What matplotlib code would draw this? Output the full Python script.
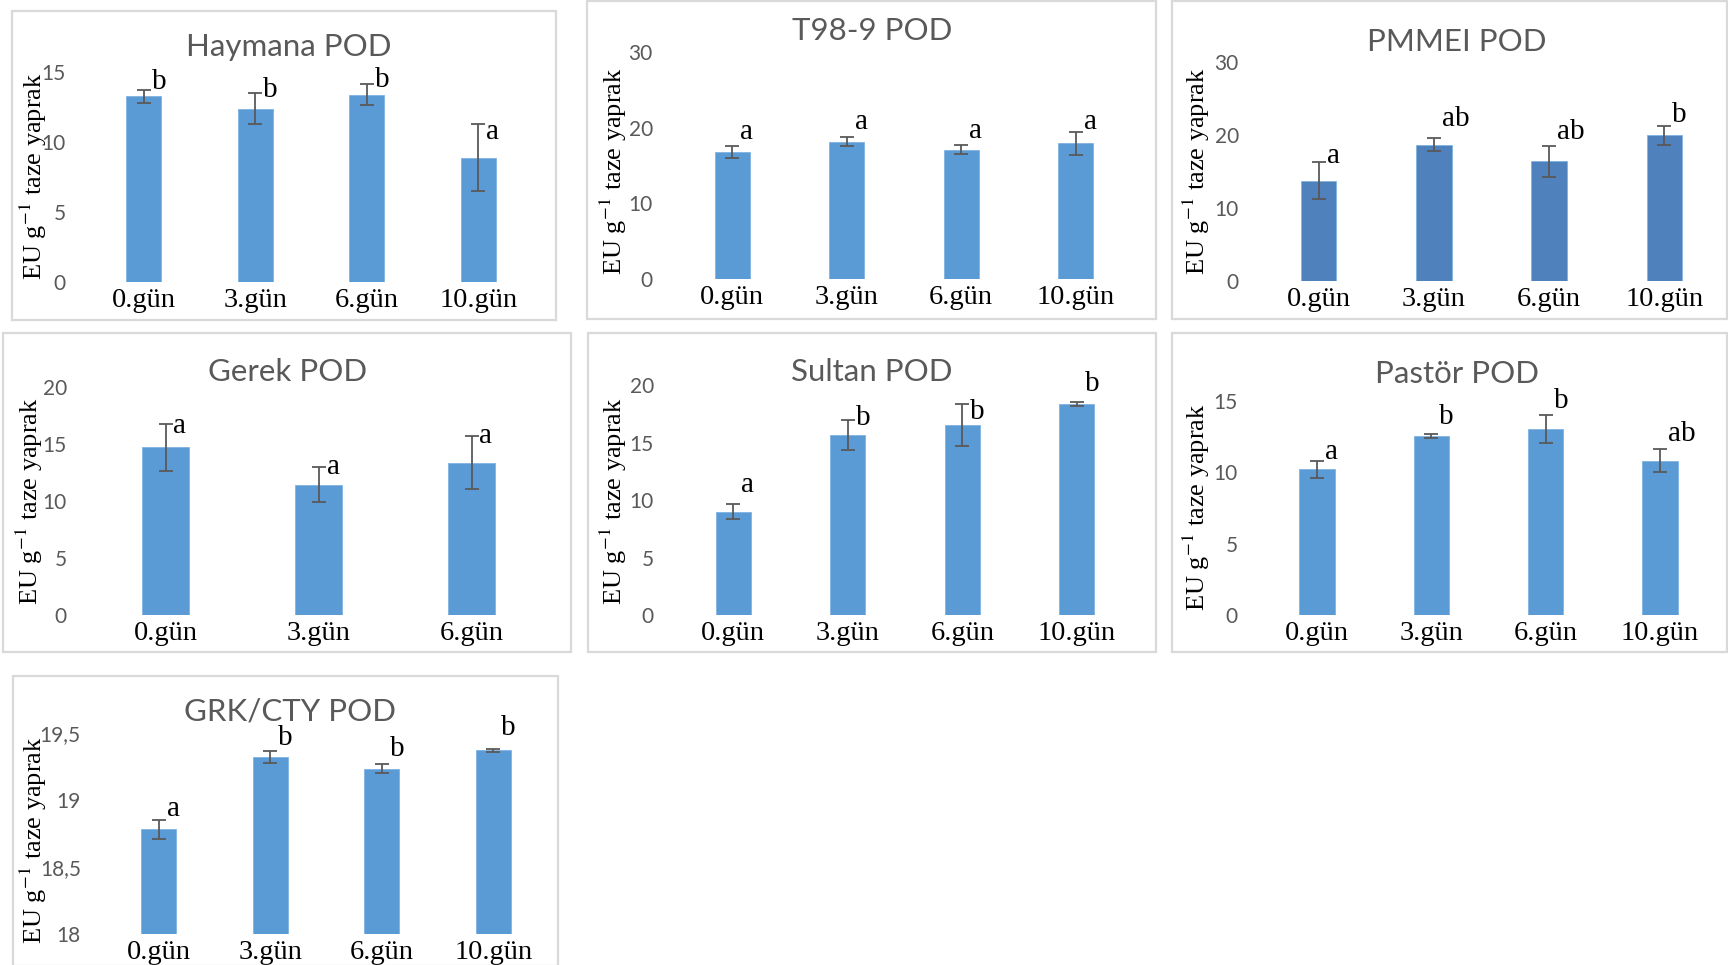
import matplotlib.pyplot as plt
from matplotlib.patches import Rectangle

plt.rcParams['mathtext.fontset'] = 'stix'

W, H = 1728, 965

days4 = ['0.gün', '3.gün', '6.gün', '10.gün']
days3 = ['0.gün', '3.gün', '6.gün']

# values (mean, error, significance letters)
hay_mean = [13.27, 12.39, 13.39, 8.89]
hay_err = [0.47, 1.08, 0.75, 2.42]
hay_sig = ['b', 'b', 'b', 'a']

t98_mean = [16.73, 18.14, 17.08, 17.92]
t98_err = [0.80, 0.60, 0.62, 1.53]
t98_sig = ['a', 'a', 'a', 'a']

pmm_mean = [13.74, 18.69, 16.40, 19.97]
pmm_err = [2.57, 0.85, 2.13, 1.33]
pmm_sig = ['a', 'ab', 'ab', 'b']

ger_mean = [14.72, 11.44, 13.37]
ger_err = [2.07, 1.57, 2.35]
ger_sig = ['a', 'a', 'a']

sul_mean = [8.99, 15.62, 16.53, 18.34]
sul_err = [0.66, 1.31, 1.81, 0.18]
sul_sig = ['a', 'b', 'b', 'b']

pas_mean = [10.20, 12.54, 13.05, 10.80]
pas_err = [0.59, 0.12, 1.00, 0.81]
pas_sig = ['a', 'b', 'b', 'ab']

grk_mean = [18.780, 19.320, 19.235, 19.370]
grk_err = [0.068, 0.042, 0.032, 0.012]
grk_sig = ['a', 'b', 'b', 'b']

# where the letters sit (data units, centre of the glyph)
hay_sig_y = [14.29, 13.74, 14.45, 10.73]
t98_sig_y = [19.38, 20.71, 19.60, 20.71]
pmm_sig_y = [17.18, 22.21, 20.38, 22.76]
ger_sig_y = [16.57, 12.99, 15.66]
sul_sig_y = [11.33, 17.17, 17.69, 20.09]
pas_sig_y = [11.44, 13.90, 15.00, 12.66]
grk_sig_y = [18.93, 19.46, 19.38, 19.54]

blue = '#5B9BD5'
blue_dark = '#4F81BD'
grey = '#595959'
serif = 'Liberation Serif'
sans = 'Lato'

panels = [
    dict(title='Haymana POD', cats=days4, mean=hay_mean, err=hay_err, sig=hay_sig, sig_y=hay_sig_y,
         ylim=(0, 15), yticks=[0, 5, 10, 15], color=blue,
         box=(12, 11, 556, 320), ax=(88, 72, 534, 282), tpos=(289, 47), ylab=(33, 176)),
    dict(title='T98-9 POD', cats=days4, mean=t98_mean, err=t98_err, sig=t98_sig, sig_y=t98_sig_y,
         ylim=(0, 30), yticks=[0, 10, 20, 30], color=blue,
         box=(587, 1, 1156, 319), ax=(675, 52, 1133, 279), tpos=(872, 31), ylab=(613, 171)),
    dict(title='PMMEI POD', cats=days4, mean=pmm_mean, err=pmm_err, sig=pmm_sig, sig_y=pmm_sig_y,
         ylim=(0, 30), yticks=[0, 10, 20, 30], color=blue_dark,
         box=(1172, 1, 1727, 319), ax=(1261, 62, 1722, 281), tpos=(1457, 42), ylab=(1196, 171)),
    dict(title='Gerek POD', cats=days3, mean=ger_mean, err=ger_err, sig=ger_sig, sig_y=ger_sig_y,
         ylim=(0, 20), yticks=[0, 5, 10, 15, 20], color=blue,
         box=(3, 333, 571, 652), ax=(89, 387, 548, 615), tpos=(288, 372), ylab=(29, 501)),
    dict(title='Sultan POD', cats=days4, mean=sul_mean, err=sul_err, sig=sul_sig, sig_y=sul_sig_y,
         ylim=(0, 20), yticks=[0, 5, 10, 15, 20], color=blue,
         box=(588, 333, 1156, 652), ax=(676, 385, 1134, 615), tpos=(872, 372), ylab=(613, 501)),
    dict(title='Pastör POD', cats=days4, mean=pas_mean, err=pas_err, sig=pas_sig, sig_y=pas_sig_y,
         ylim=(0, 15), yticks=[0, 5, 10, 15], color=blue,
         box=(1172, 333, 1727, 652), ax=(1260, 401, 1717, 615), tpos=(1457, 374), ylab=(1196, 507)),
    dict(title='GRK/CTY POD', cats=days4, mean=grk_mean, err=grk_err, sig=grk_sig, sig_y=grk_sig_y,
         ylim=(18, 19.5), yticks=[18, 18.5, 19, 19.5], color=blue,
         box=(13, 676, 558, 966), ax=(103, 733, 549, 934), tpos=(290, 712), ylab=(33, 840)),
]

fig = plt.figure(figsize=(W / 100, H / 100), dpi=100)
fig.patch.set_facecolor('white')

for p in panels:
    x0, y0, x1, y1 = p['box']
    fig.patches.append(Rectangle((x0 / W, 1 - y1 / H), (x1 - x0) / W, (y1 - y0) / H,
                                 transform=fig.transFigure, fill=False,
                                 ec='#D9D9D9', lw=1.6, zorder=0))

    l, t, r, b = p['ax']
    ax = fig.add_axes([l / W, 1 - b / H, (r - l) / W, (b - t) / H])
    ax.set_facecolor('none')
    n = len(p['cats'])
    xs = list(range(n))
    lo = p['ylim'][0]
    heights = [m - lo for m in p['mean']]
    ax.bar(xs, heights, bottom=lo, width=0.31, color=p['color'], edgecolor='#7FB2E0', linewidth=0.6)
    ax.errorbar(xs, p['mean'], yerr=p['err'], fmt='none', ecolor=grey,
                elinewidth=1.3, capsize=5, capthick=1.3)
    for i in xs:
        ax.annotate(p['sig'][i], xy=(i, p['sig_y'][i]), xytext=(8, 0),
                    textcoords='offset pixels', ha='left', va='center',
                    fontsize=21, family=serif, color='black', annotation_clip=False)

    ax.set_xlim(-0.5, n - 0.5)
    ax.set_ylim(*p['ylim'])
    ax.set_xticks(xs)
    ax.set_xticklabels(p['cats'], fontsize=20.5, family=serif, color='black')
    ax.set_yticks(p['yticks'])
    if p['ylim'][0] == 18:
        ax.set_yticklabels([f'{v:g}'.replace('.', ',') for v in p['yticks']])
    else:
        ax.set_yticklabels([f'{v:g}' for v in p['yticks']])
    for lab in ax.get_yticklabels():
        lab.set_family(sans)
        lab.set_fontsize(15)
        lab.set_color(grey)
    ax.tick_params(axis='both', length=0)
    ax.tick_params(axis='y', pad=16)
    ax.tick_params(axis='x', pad=4.5)
    for s in ax.spines.values():
        s.set_visible(False)

    tx, ty = p['tpos']
    fig.text(tx / W, 1 - ty / H, p['title'], ha='center', va='center',
             fontsize=22.5, family=sans, color=grey)
    lx, ly = p['ylab']
    fig.text(lx / W, 1 - ly / H, 'EU g$^{-1}$ taze yaprak', ha='center', va='center',
             rotation=90, fontsize=19, family=serif, color='black')

fig.savefig('out.png', dpi=100)
